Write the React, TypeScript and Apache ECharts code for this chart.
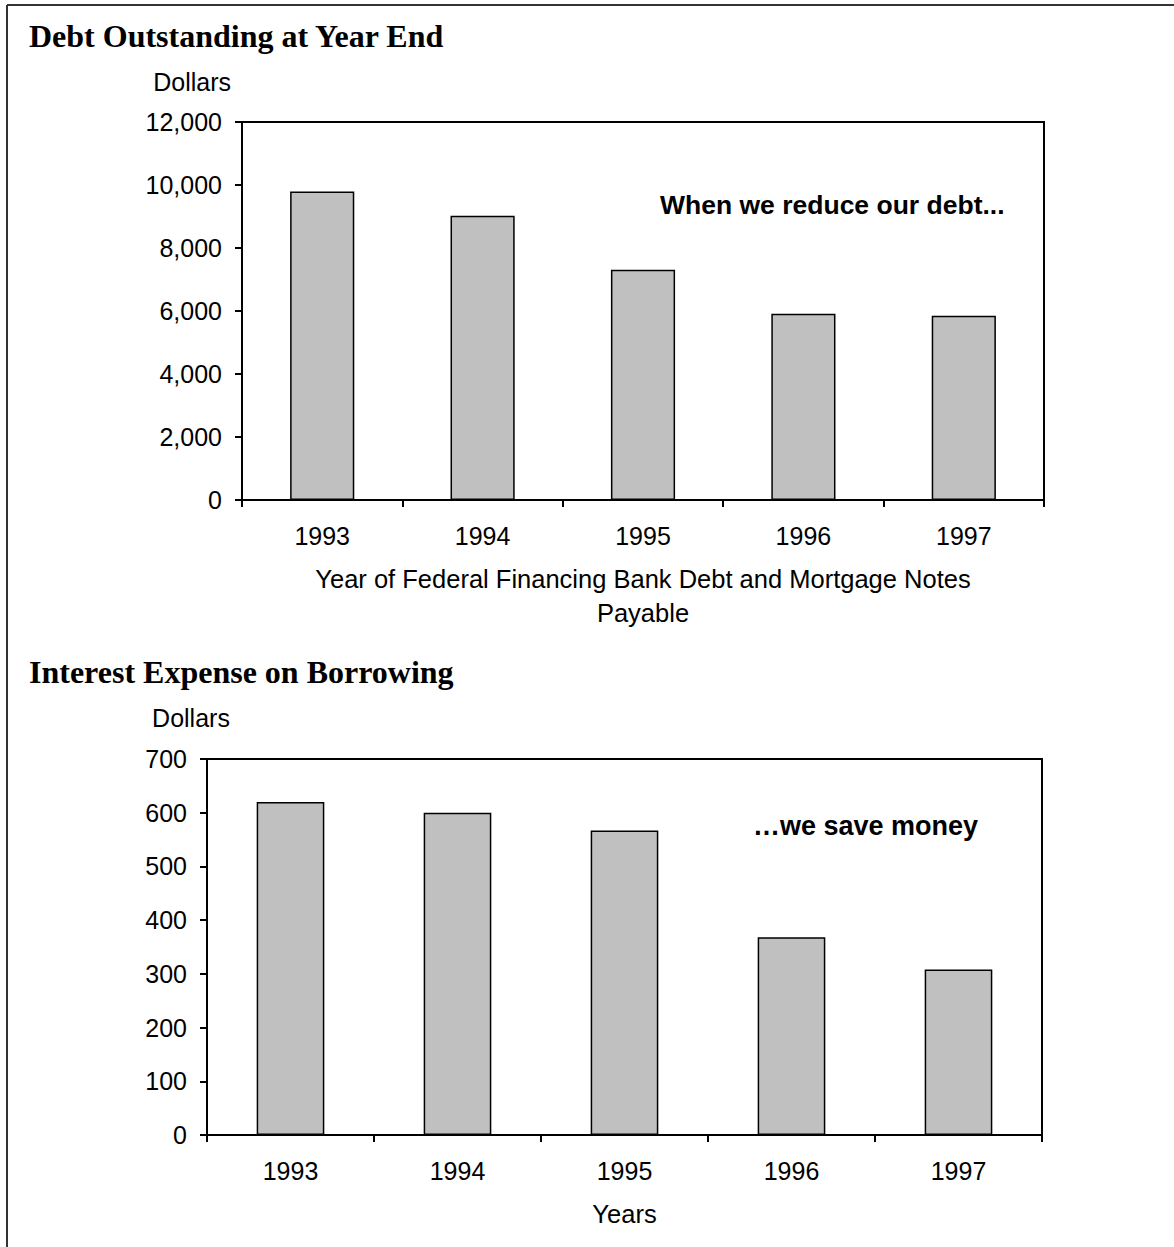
import React, { useEffect, useRef } from "react";
import * as echarts from "echarts";

// Fiscal years shown on both charts
const years = ["1993", "1994", "1995", "1996", "1997"];

// Debt outstanding at year end (dollars)
const debtValues = [9790, 9020, 7310, 5910, 5850];

// Interest expense on borrowing (dollars)
const interestValues = [620, 600, 567, 368, 308];

const debtAxisMax = 12000;
const debtAxisStep = 2000;
const interestAxisMax = 700;
const interestAxisStep = 100;

const SANS = "'Liberation Sans', Arial, Helvetica, sans-serif";
const SERIF = "'Liberation Serif', 'Times New Roman', serif";

const axisTextStyle = { fontFamily: SANS, fontSize: 25, color: "#000" };

function makeXAxis(gridIndex: number, name: string) {
  return {
    type: "category",
    gridIndex,
    data: years,
    name,
    nameLocation: "middle",
    nameGap: 62,
    nameTextStyle: { ...axisTextStyle, fontSize: 25.5, lineHeight: 34, verticalAlign: "top" },
    axisLine: { show: true, lineStyle: { color: "#000", width: 2 } },
    axisTick: { show: true, inside: false, length: 7, lineStyle: { color: "#000", width: 2 } },
    axisLabel: { ...axisTextStyle, margin: 23 },
    splitLine: { show: false },
  };
}

function makeYAxis(
  gridIndex: number,
  max: number,
  interval: number,
  gap: number,
  nameAlign: string,
  namePadding: number[]
) {
  return {
    type: "value",
    gridIndex,
    min: 0,
    max,
    interval,
    name: "Dollars",
    nameLocation: "end",
    nameGap: gap,
    nameTextStyle: { ...axisTextStyle, align: nameAlign, verticalAlign: "middle", padding: namePadding },
    axisLine: { show: true, lineStyle: { color: "#000", width: 2 } },
    axisTick: { show: true, inside: false, length: 7, lineStyle: { color: "#000", width: 2 } },
    axisLabel: {
      ...axisTextStyle,
      margin: 20,
      formatter: (v: number) => v.toLocaleString("en-US"),
    },
    splitLine: { show: false },
  };
}

const barStyle = { color: "#C0C0C0", borderColor: "#000", borderWidth: 1.5 };

export default function App() {
  const ref = useRef<HTMLDivElement>(null);

  useEffect(() => {
    if (!ref.current) return;
    const chart = echarts.init(ref.current, undefined, { renderer: "svg" });
    chart.setOption({
      animation: false,
      backgroundColor: "#fff",
      grid: [
        { left: 242, top: 122, width: 802, height: 378, show: true, borderColor: "#000", borderWidth: 2, backgroundColor: "transparent" },
        { left: 207, top: 759, width: 835, height: 376, show: true, borderColor: "#000", borderWidth: 2, backgroundColor: "transparent" },
      ],
      xAxis: [
        makeXAxis(0, "Year of Federal Financing Bank Debt and Mortgage Notes\nPayable"),
        makeXAxis(1, "Years"),
      ],
      yAxis: [
        makeYAxis(0, debtAxisMax, debtAxisStep, 40, "right", [0, 11, 0, 0]),
        makeYAxis(1, interestAxisMax, interestAxisStep, 41, "center", [0, 32, 0, 0]),
      ],
      series: [
        {
          type: "bar",
          name: "Debt Outstanding",
          xAxisIndex: 0,
          yAxisIndex: 0,
          data: debtValues,
          barWidth: "40%",
          itemStyle: barStyle,
        },
        {
          type: "bar",
          name: "Interest Expense",
          xAxisIndex: 1,
          yAxisIndex: 1,
          data: interestValues,
          barWidth: "40.5%",
          itemStyle: barStyle,
        },
      ],
      graphic: [
        // page frame: top and left rules
        { type: "line", shape: { x1: 7, y1: 5, x2: 1174, y2: 5 }, style: { stroke: "#333", lineWidth: 2 } },
        { type: "line", shape: { x1: 7, y1: 5, x2: 7, y2: 1247 }, style: { stroke: "#333", lineWidth: 2 } },
        {
          type: "text",
          x: 29,
          y: 36,
          style: { text: "Debt Outstanding at Year End", font: `bold 32px ${SERIF}`, fill: "#000", verticalAlign: "middle", align: "left" },
        },
        {
          type: "text",
          x: 29,
          y: 672,
          style: { text: "Interest Expense on Borrowing", font: `bold 32px ${SERIF}`, fill: "#000", verticalAlign: "middle", align: "left" },
        },
        {
          type: "text",
          x: 660,
          y: 205,
          style: { text: "When we reduce our debt...", font: `bold 26.5px ${SANS}`, fill: "#000", verticalAlign: "middle", align: "left" },
        },
        {
          type: "text",
          x: 753,
          y: 826,
          style: { text: "\u2026we save money", font: `bold 27px ${SANS}`, fill: "#000", verticalAlign: "middle", align: "left" },
        },
      ],
    });
    return () => chart.dispose();
  }, []);

  return (
    <div
      ref={ref}
      style={{ position: "fixed", left: 0, top: 0, width: 1174, height: 1247, background: "#fff" }}
    />
  );
}
